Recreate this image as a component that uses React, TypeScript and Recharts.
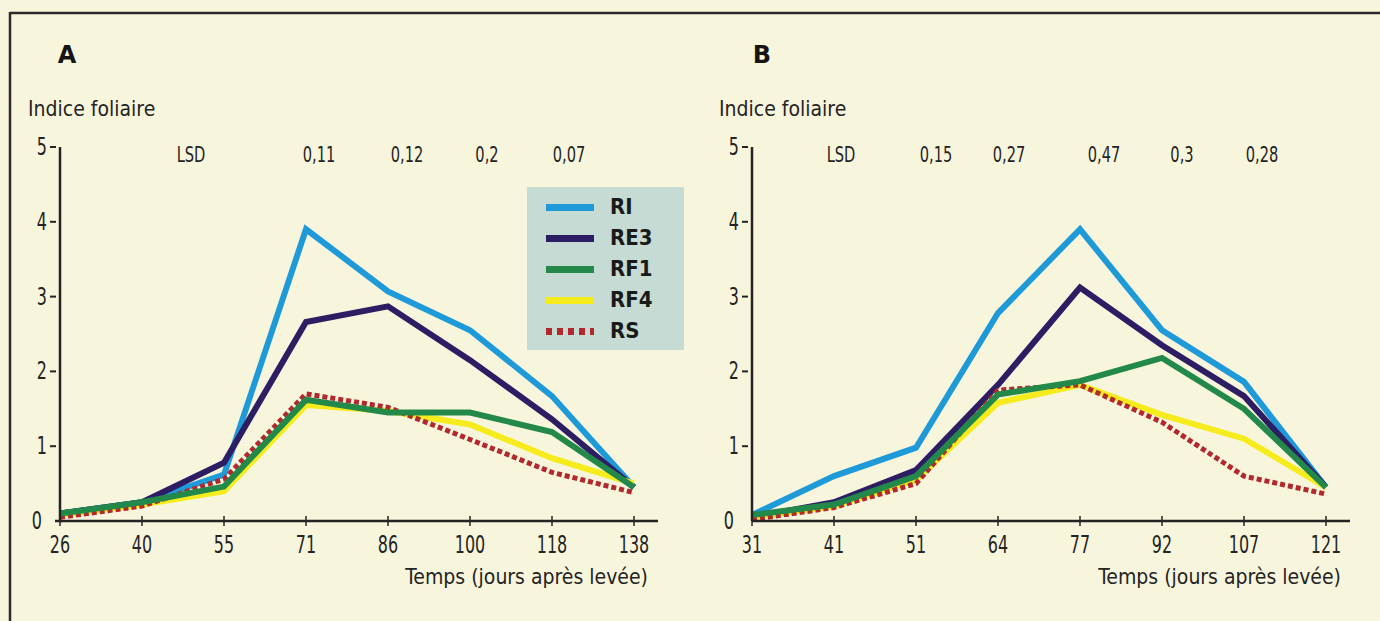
import React from 'react';
import { LineChart, Line, XAxis, YAxis, ReferenceDot } from 'recharts';

// ---------- data ----------
const daysA = ['26', '40', '55', '71', '86', '100', '118', '138'];
const riA = [0.1, 0.25, 0.62, 3.9, 3.07, 2.55, 1.67, 0.45];
const re3A = [0.1, 0.25, 0.78, 2.66, 2.87, 2.15, 1.36, 0.45];
const rf1A = [0.1, 0.25, 0.46, 1.62, 1.45, 1.45, 1.19, 0.45];
const rf4A = [0.08, 0.22, 0.4, 1.55, 1.47, 1.29, 0.84, 0.5];
const rsA = [0.05, 0.2, 0.56, 1.7, 1.52, 1.09, 0.65, 0.38];

const daysB = ['31', '41', '51', '64', '77', '92', '107', '121'];
const riB = [0.08, 0.6, 0.98, 2.78, 3.9, 2.55, 1.86, 0.45];
const re3B = [0.05, 0.25, 0.68, 1.82, 3.12, 2.35, 1.67, 0.45];
const rf1B = [0.08, 0.22, 0.6, 1.69, 1.87, 2.18, 1.5, 0.45];
const rf4B = [0.05, 0.2, 0.55, 1.58, 1.82, 1.42, 1.1, 0.45];
const rsB = [0.02, 0.18, 0.5, 1.75, 1.82, 1.32, 0.6, 0.36];

const yTicks = [0, 1, 2, 3, 4, 5];

const lsdDaysA = ['40', '71', '86', '100', '118'];
const lsdTextA = ['LSD', '0,11', '0,12', '0,2', '0,07'];
const lsdDaysB = ['41', '51', '64', '77', '92', '107'];
const lsdTextB = ['LSD', '0,15', '0,27', '0,47', '0,3', '0,28'];

const legendNames = ['RI', 'RE3', 'RF1', 'RF4', 'RS'];

// ---------- layout / style ----------
const NARROW = "'DejaVu Sans Condensed', 'Liberation Sans Narrow', 'Arial Narrow', sans-serif";
const INK = '#242424';
const BG = '#f8f5dd';

const LSD_NUDGE_A = [49, 13, 19, 17, 17];
const LSD_NUDGE_B = [7, 20, 11, 24, 20, 18];

const STYLE: Record<string, { color: string; width: number; dash?: string }> = {
  RI: { color: '#1e9ad8', width: 6 },
  RE3: { color: '#2d1e63', width: 6 },
  RF1: { color: '#23894b', width: 6 },
  RF4: { color: '#f6ec1d', width: 6 },
  RS: { color: '#b2282c', width: 5, dash: '5 3' },
};
const DRAW_ORDER = ['RI', 'RE3', 'RF4', 'RS', 'RF1'];

function buildRows(days: string[], ri: number[], re3: number[], rf1: number[], rf4: number[], rs: number[]) {
  return days.map((d, i) => ({ day: d, RI: ri[i], RE3: re3[i], RF1: rf1[i], RF4: rf4[i], RS: rs[i] }));
}

const rowsA = buildRows(daysA, riA, re3A, rf1A, rf4A, rsA);
const rowsB = buildRows(daysB, riB, re3B, rf1B, rf4B, rsB);

const NarrowText = (p: { x: number; y: number; size: number; anchor?: string; children: any }) => (
  <text
    transform={`translate(${p.x},${p.y}) scale(0.74,1)`}
    x={0}
    y={0}
    textAnchor={(p.anchor as any) || 'middle'}
    fontFamily={NARROW}
    fontSize={p.size}
    fill={INK}
  >
    {p.children}
  </text>
);

const XTick = (p: any) => {
  const { x, y, payload } = p;
  return (
    <g>
      <line x1={x} x2={x} y1={y - 5} y2={y + 5} stroke={INK} strokeWidth={1.5} />
      <NarrowText x={x} y={y + 32} size={24}>
        {payload.value}
      </NarrowText>
    </g>
  );
};

const YTick = (p: any) => {
  const { x, y, payload } = p;
  const v = payload.value;
  return (
    <g>
      {v !== 0 && <line x1={x - 10} x2={x - 4} y1={y} y2={y} stroke={INK} strokeWidth={2} />}
      <NarrowText x={v === 0 ? x - 18 : x - 13} y={y + 8} size={24} anchor="end">
        {v}
      </NarrowText>
    </g>
  );
};

function Panel(props: {
  rows: any[];
  lsdDays: string[];
  lsdText: string[];
  nudges: number[];
  yAxisWidth: number;
  marginRight: number;
}) {
  const { rows, lsdDays, lsdText, nudges, yAxisWidth, marginRight } = props;
  return (
    <LineChart
      width={690}
      height={621}
      data={rows}
      margin={{ top: 147, right: marginRight, bottom: 70, left: 0 }}
      style={{ background: 'transparent' }}
    >
      <XAxis
        dataKey="day"
        type="category"
        padding={{ left: 0, right: 24 }}
        height={30}
        interval={0}
        tickSize={0}
        tickMargin={0}
        tickLine={false}
        axisLine={{ stroke: INK, strokeWidth: 2.5 }}
        tick={(p: any) => <XTick {...p} />}
      />
      <YAxis
        type="number"
        domain={[0, 5]}
        ticks={yTicks}
        interval={0}
        width={yAxisWidth}
        tickSize={0}
        tickMargin={0}
        tickLine={false}
        axisLine={{ stroke: INK, strokeWidth: 2.5 }}
        tick={(p: any) => <YTick {...p} />}
      />
      {DRAW_ORDER.map((k) => (
        <Line
          key={k}
          dataKey={k}
          type="linear"
          stroke={STYLE[k].color}
          strokeWidth={STYLE[k].width}
          strokeDasharray={STYLE[k].dash}
          strokeLinejoin="miter"
          strokeLinecap="butt"
          dot={false}
          activeDot={false}
          isAnimationActive={false}
        />
      ))}
      {lsdDays.map((d, i) => (
        <ReferenceDot
          key={'lsd' + i}
          x={d}
          y={5}
          r={1}
          isFront
          shape={(sp: any) => (
            <NarrowText x={sp.cx + nudges[i]} y={sp.cy + 15} size={22}>
              {lsdText[i]}
            </NarrowText>
          )}
        />
      ))}
    </LineChart>
  );
}

function LegendBox() {
  return (
    <div
      style={{
        position: 'absolute',
        left: 527,
        top: 187,
        width: 157,
        height: 163,
        background: '#c6dbd3',
      }}
    >
      {legendNames.map((n, i) => {
        const s = STYLE[n];
        return (
          <div key={n} style={{ position: 'absolute', left: 0, top: 5 + i * 31, height: 31, width: 157 }}>
            <svg width={60} height={31} style={{ position: 'absolute', left: 19, top: 0 }}>
              <line
                x1={0}
                x2={48}
                y1={15.5}
                y2={15.5}
                stroke={s.color}
                strokeWidth={7}
                strokeDasharray={s.dash ? '6 5' : undefined}
              />
            </svg>
            <span
              style={{
                position: 'absolute',
                left: 83,
                top: 2,
                fontFamily: "'DejaVu Sans Condensed', 'DejaVu Sans', sans-serif",
                fontWeight: 700,
                fontSize: 22,
                lineHeight: '26px',
                color: '#1a1a1a',
              }}
            >
              {n}
            </span>
          </div>
        );
      })}
    </div>
  );
}

export default function App() {
  return (
    <div
      style={{
        position: 'absolute',
        left: 0,
        top: 0,
        width: 1380,
        height: 621,
        background: BG,
        overflow: 'hidden',
      }}
    >
      <div style={{ position: 'absolute', left: 0, top: 0 }}>
        <Panel rows={rowsA} lsdDays={lsdDaysA} lsdText={lsdTextA} nudges={LSD_NUDGE_A} yAxisWidth={60} marginRight={32} />
      </div>
      <div style={{ position: 'absolute', left: 690, top: 0 }}>
        <Panel rows={rowsB} lsdDays={lsdDaysB} lsdText={lsdTextB} nudges={LSD_NUDGE_B} yAxisWidth={62} marginRight={30} />
      </div>
      <svg width={1380} height={621} style={{ position: 'absolute', left: 0, top: 0, pointerEvents: 'none' }}>
        <line x1={10} x2={1380} y1={13} y2={13} stroke="#2a2a2a" strokeWidth={2.5} />
        <line x1={10} x2={10} y1={12} y2={621} stroke="#2a2a2a" strokeWidth={2.5} />
        <line x1={55} x2={62} y1={521} y2={521} stroke={INK} strokeWidth={2.5} />
        <text x={67} y={63} textAnchor="middle" fontFamily="'DejaVu Sans', sans-serif" fontWeight={700} fontSize={24} fill="#151515">A</text>
        <text x={762} y={63} textAnchor="middle" fontFamily="'DejaVu Sans', sans-serif" fontWeight={700} fontSize={24} fill="#151515">B</text>
        <text x={28} y={116} fontFamily={NARROW} fontSize={21} fill={INK}>Indice foliaire</text>
        <text x={719} y={116} fontFamily={NARROW} fontSize={21} fill={INK}>Indice foliaire</text>
        <text x={648} y={584} textAnchor="end" fontFamily={NARROW} fontSize={21} fill={INK}>Temps (jours après levée)</text>
        <text x={1341} y={584} textAnchor="end" fontFamily={NARROW} fontSize={21} fill={INK}>Temps (jours après levée)</text>
      </svg>
      <LegendBox />
    </div>
  );
}
